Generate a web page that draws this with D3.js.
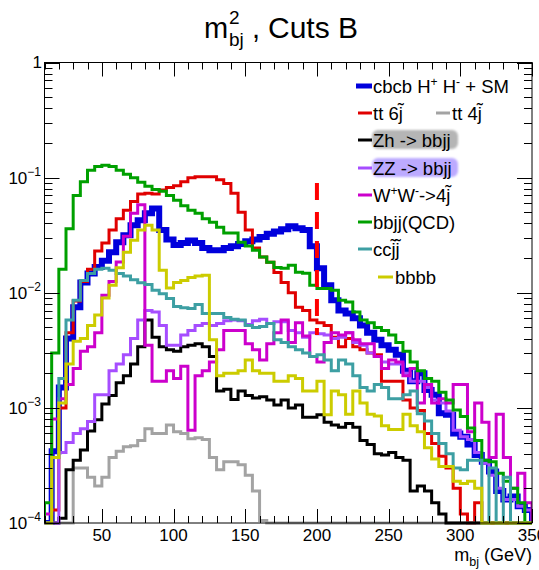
<!DOCTYPE html>
<html>
<head>
<meta charset="utf-8">
<script src="https://cdn.jsdelivr.net/npm/d3@7"></script>
<style>
  html, body { margin: 0; padding: 0; background: #fff; }
  text { font-family: "Liberation Sans", Arial, Helvetica, sans-serif; }
</style>
</head>
<body>
<svg id="chart" width="539" height="570"></svg>
<script>
// ---- data: m_bj distributions after cuts B, 5 GeV bins from 10 to 350 GeV ----
const binEdges = d3.range(10, 355, 5);           // 69 edges -> 68 bins
const xTickValues = [50, 100, 150, 200, 250, 300, 350];
const yDecades = [0, -1, -2, -3, -4];
const cutMass = 200;
const cutSpan = [0.0043, 0.09];

const cbcbHH = [
  0, 0.00042, 0.0015, 0.004, 0.0075, 0.0123, 0.0147, 0.0167, 0.019, 0.0225,
  0.0275, 0.0316, 0.0385, 0.0426, 0.049, 0.054, 0.035, 0.029, 0.026, 0.027,
  0.0285, 0.027, 0.0245, 0.0234, 0.0234, 0.0245, 0.0253, 0.0265, 0.028, 0.029,
  0.0305, 0.0325, 0.034, 0.0356, 0.0378, 0.0363, 0.035, 0.0253, 0.0163, 0.0116,
  0.0086, 0.007, 0.0066, 0.006, 0.0052, 0.0045, 0.0039, 0.0035, 0.0032, 0.0029,
  0.0021, 0.0017, 0.002, 0.00143, 0.0013, 0.0009, 0.00087, 0.0006, 0.00056, 0.00048,
  0.00039, 0.00034, 0.00028, 0.00019, 0.00016, 0.00017, 0.00014, 0.00013
];
const tt6j = [
  0, 0.00013, 0.001, 0.0045, 0.0085, 0.0125, 0.016, 0.023, 0.027, 0.035,
  0.044, 0.052, 0.062, 0.072, 0.073, 0.072, 0.078, 0.082, 0.085, 0.092,
  0.1, 0.102, 0.102, 0.102, 0.096, 0.089, 0.073, 0.05, 0.035, 0.0245,
  0.0204, 0.0184, 0.015, 0.0123, 0.01, 0.0075, 0.007, 0.0058, 0.0055, 0.0052,
  0.0041, 0.0034, 0.004, 0.0034, 0.0032, 0.003, 0.0029, 0.0017, 0.0017, 0.0017,
  0.00117, 0.001, 0.00095, 0.0006, 0.00049, 0.00038, 0.0003, 0.0002, 0.00012, 0,
  0.00015, 0, 0, 0, 0, 0, 0, 0
];
const tt4j = [
  0, 0, 0, 0, 0.0003, 0.0003, 0.00025, 0.00021, 0.00025, 0.00037,
  0.00042, 0.00046, 0.00047, 0.00052, 0.00066, 0.0006, 0.0006, 0.00071, 0.00062, 0.0006,
  0.00054, 0.00055, 0.00053, 0.00037, 0.00029, 0.00034, 0.00034, 0.00032, 0.00026, 0.00019,
  0.000105, 0, 0, 0, 0, 0, 0, 0, 0, 0,
  0, 0, 0, 0, 0, 0, 0, 0, 0, 0,
  0, 0, 0, 0, 0, 0, 0, 0, 0, 0,
  0, 0, 0, 0, 0, 0, 0, 0
];
const zhBbjj = [
  0, 0.0001, 0.00011, 0.00029, 0.00035, 0.00043, 0.00063, 0.00079, 0.00108, 0.00128,
  0.00165, 0.0019, 0.0024, 0.0034, 0.0058, 0.0041, 0.0034, 0.0032, 0.0031, 0.0034,
  0.0035, 0.0036, 0.0034, 0.0028, 0.0014, 0.00145, 0.00118, 0.0014, 0.00128, 0.00122,
  0.00125, 0.00117, 0.00106, 0.00117, 0.001, 0.00106, 0.00083, 0.00083, 0.00087, 0.00075,
  0.00071, 0.00068, 0.00073, 0.00068, 0.00052, 0.00048, 0.0004, 0.00039, 0.00041, 0.00037,
  0.00035, 0.00019, 0.00021, 0.00019, 0.00015, 0.00012, 0, 0, 0, 0,
  0, 0, 0, 0, 0, 0, 0, 0
];
const zzBbjj = [
  0, 0, 0.00041, 0.0005, 0.0006, 0.00066, 0.00076, 0.0013, 0.0013, 0.0021,
  0.0024, 0.0029, 0.004, 0.0058, 0.007, 0.0068, 0.0052, 0.0035, 0.0035, 0.0043,
  0.0047, 0.0052, 0.0054, 0.0052, 0.0054, 0.0057, 0.0058, 0.0057, 0.0053, 0.0057,
  0.0059, 0.0054, 0.0056, 0.0056, 0.0047, 0.0045, 0.0041, 0.0045, 0.0044, 0.0043,
  0.004, 0.0041, 0.0045, 0.0037, 0.0035, 0.003, 0.0028, 0.0025, 0.0024, 0.0024,
  0.002, 0.0017, 0.0017, 0.0015, 0.00117, 0.0011, 0.00094, 0.00064, 0.00056, 0.00053,
  0.00041, 0.00033, 0.00026, 0.0002, 0.00016, 0.00016, 0.00014, 0.00013
];
const ww4j = [
  0.00012, 0.0008, 0.0012, 0.0016, 0.0022, 0.0031, 0.0034, 0.0045, 0.0095, 0.0125,
  0.0185, 0.031, 0.049, 0.058, 0.0035, 0.0017, 0.0017, 0.0021, 0.0018, 0.0023,
  0.00064, 0.0019, 0.0021, 0.0025, 0.0032, 0.0047, 0.0047, 0.0047, 0.0036, 0.0032,
  0.0026, 0.0036, 0.0045, 0.0058, 0.0037, 0.0055, 0.0042, 0.0028, 0.0025, 0.0037,
  0.0045, 0.0043, 0.0045, 0.0039, 0.0036, 0.0036, 0.0028, 0.0022, 0.0026, 0.0025,
  0.0019, 0.0022, 0.0011, 0.0016, 0.0011, 0.0012, 0.0011, 0.0016, 0.0016, 0.00062,
  0.0011, 0.00075, 0.00037, 0.00088, 0.00037, 0.0002, 0.00027, 0.00015
];
const bbjjQCD = [
  0.00015, 0.003, 0.016, 0.036, 0.07, 0.092, 0.116, 0.125, 0.128, 0.125,
  0.116, 0.107, 0.1, 0.091, 0.084, 0.079, 0.076, 0.07, 0.0635, 0.057,
  0.052, 0.049, 0.044, 0.041, 0.037, 0.033, 0.033, 0.0275, 0.0255, 0.0234,
  0.0204, 0.0184, 0.0166, 0.0163, 0.0173, 0.0151, 0.0148, 0.0116, 0.0109, 0.0109,
  0.0105, 0.0086, 0.0083, 0.0068, 0.0058, 0.0055, 0.005, 0.0047, 0.0043, 0.0037,
  0.0031, 0.0025, 0.0021, 0.0018, 0.0017, 0.00137, 0.00117, 0.00096, 0.00084, 0.00067,
  0.00052, 0.00035, 0.00034, 0.00027, 0.00023, 0.0002, 0.00015, 0
];
const ccjj = [
  0, 0.00037, 0.0018, 0.0058, 0.0086, 0.0128, 0.0147, 0.016, 0.0163, 0.0157,
  0.0147, 0.014, 0.013, 0.0122, 0.0118, 0.0105, 0.0098, 0.0089, 0.0076, 0.0074,
  0.0073, 0.0079, 0.0066, 0.0066, 0.0066, 0.0061, 0.0059, 0.0058, 0.0052, 0.005,
  0.0051, 0.0054, 0.0039, 0.0037, 0.0034, 0.0032, 0.003, 0.0028, 0.0029, 0.0026,
  0.0021, 0.0026, 0.0024, 0.0019, 0.0015, 0.0014, 0.0016, 0.0015, 0.0012, 0.0012,
  0.0013, 0.0014, 0.00089, 0.00077, 0.0006, 0.00049, 0.0004, 0.0003, 0.00029, 0.00035,
  0.00035, 0, 0.0003, 0, 0.00025, 0, 0, 0
];
const bbbb = [
  0, 0.00037, 0.0011, 0.0024, 0.0038, 0.004, 0.0052, 0.0064, 0.009, 0.0116,
  0.0165, 0.0225, 0.0286, 0.035, 0.0385, 0.035, 0.0157, 0.011, 0.0123, 0.0128,
  0.0136, 0.014, 0.0142, 0.0039, 0.0019, 0.002, 0.002, 0.0021, 0.0026, 0.0021,
  0.002, 0.002, 0.0017, 0.0017, 0.0019, 0.0018, 0.0014, 0.0014, 0.0017, 0.00087,
  0.0014, 0.0013, 0.00088, 0.0014, 0.0011, 0.00088, 0.00085, 0.0007, 0.00065, 0.00065,
  0.00088, 0.0007, 0.00062, 0.00045, 0.00036, 0.00031, 0.00031, 0.00023, 0.00022, 0.00023,
  0.0002, 0, 0, 0, 0, 0, 0, 0
];

// ---- styling of each sample (drawing order: first is underneath) ----
const samples = [
  { values: cbcbHH,  color: "#0000dc", width: 6 },
  { values: tt6j,    color: "#e00000", width: 3 },
  { values: tt4j,    color: "#a3a3a3", width: 3 },
  { values: zhBbjj,  color: "#000000", width: 3 },
  { values: zzBbjj,  color: "#a64dff", width: 3 },
  { values: ww4j,    color: "#cc00cc", width: 3 },
  { values: bbjjQCD, color: "#00a000", width: 3 },
  { values: ccjj,    color: "#3d9fa3", width: 3 },
  { values: bbbb,    color: "#cccc00", width: 3 }
];

// ---- layout ----
const frame = { left: 44.5, right: 532, top: 62.5, bottom: 523 };
const svg = d3.select("#chart");
const x = d3.scaleLinear().domain([10, 350]).range([frame.left, frame.right]);
const y = d3.scaleLog().domain([1e-4, 1]).range([frame.bottom, frame.top]).clamp(true);
const yv = v => y(Math.max(v, 1e-4));

// ---- title: m^2_bj , Cuts B ----
const title = svg.append("g").attr("fill", "#000");
title.append("text").attr("x", 204).attr("y", 38).attr("font-size", 29).text("m");
title.append("text").attr("x", 229).attr("y", 24).attr("font-size", 19).text("2");
title.append("text").attr("x", 229).attr("y", 46).attr("font-size", 19).text("bj");
title.append("text").attr("x", 252).attr("y", 38).attr("font-size", 29).text(",");
title.append("text").attr("x", 268).attr("y", 38).attr("font-size", 30).text("Cuts B");

// ---- histograms ----
svg.append("defs").append("clipPath").attr("id", "plotArea")
  .append("rect")
  .attr("x", frame.left).attr("y", frame.top - 1)
  .attr("width", frame.right - frame.left).attr("height", frame.bottom - frame.top + 3);

const step = d3.line().x(d => x(d[0])).y(d => yv(d[1])).curve(d3.curveStepAfter);
function histPoints(values) {
  const pts = [[binEdges[0], 0]];
  values.forEach((v, i) => pts.push([binEdges[i], v]));
  pts.push([binEdges[values.length], values[values.length - 1]]);
  pts.push([binEdges[values.length], 0]);
  return pts;
}

const plot = svg.append("g").attr("clip-path", "url(#plotArea)");
samples.forEach(s => {
  plot.append("path")
    .attr("d", step(histPoints(s.values)))
    .attr("fill", "none")
    .attr("stroke", s.color)
    .attr("stroke-width", s.width)
    .attr("stroke-linejoin", "miter");
});

// cut at m_bj = 200 GeV
svg.append("line")
  .attr("x1", x(cutMass)).attr("x2", x(cutMass))
  .attr("y1", y(cutSpan[1])).attr("y2", y(cutSpan[0]))
  .attr("stroke", "#ff0000").attr("stroke-width", 4)
  .attr("stroke-dasharray", "17,12");

// ---- frame and ticks ----
const axes = svg.append("g").attr("stroke", "#000").attr("stroke-width", 1).attr("fill", "none");
axes.append("rect")
  .attr("x", frame.left).attr("y", frame.top)
  .attr("width", frame.right - frame.left).attr("height", frame.bottom - frame.top);

const xMinor = d3.range(10, 351, 10).filter(v => v % 50 !== 0);
function xTicks(vals, len) {
  vals.forEach(v => {
    const px = Math.round(x(v)) + 0.5;
    axes.append("line").attr("x1", px).attr("x2", px).attr("y1", frame.bottom).attr("y2", frame.bottom - len);
    axes.append("line").attr("x1", px).attr("x2", px).attr("y1", frame.top).attr("y2", frame.top + len);
  });
}
xTicks(xTickValues, 14);
xTicks(xMinor, 7);

const yMajor = yDecades.map(e => Math.pow(10, e));
const yMinor = [];
yDecades.slice(1).forEach(e => d3.range(2, 10).forEach(m => yMinor.push(m * Math.pow(10, e))));
function yTicks(vals, len) {
  vals.forEach(v => {
    const py = Math.round(y(v)) + 0.5;
    axes.append("line").attr("x1", frame.left).attr("x2", frame.left + len).attr("y1", py).attr("y2", py);
    axes.append("line").attr("x1", frame.right).attr("x2", frame.right - len).attr("y1", py).attr("y2", py);
  });
}
yTicks(yMajor, 15);
yTicks(yMinor, 8);

// ---- tick labels ----
const labels = svg.append("g").attr("fill", "#000").attr("font-size", 17);
xTickValues.forEach(v => {
  labels.append("text").attr("x", x(v)).attr("y", 541).attr("text-anchor", "middle").text(v);
});
yDecades.forEach(e => {
  const py = y(Math.pow(10, e));
  if (e === 0) {
    labels.append("text").attr("x", 42).attr("y", py + 5).attr("text-anchor", "end").text("1");
  } else {
    const t = labels.append("text").attr("x", 41).attr("y", py + 6).attr("text-anchor", "end");
    t.append("tspan").text("10");
    t.append("tspan").attr("dy", -8).attr("font-size", 12).text("\u2212" + (-e));
  }
});

// axis title
const xt = svg.append("text").attr("x", 532).attr("y", 561).attr("text-anchor", "end")
  .attr("font-size", 18).attr("fill", "#000");
xt.append("tspan").text("m");
xt.append("tspan").attr("dy", 5).attr("font-size", 12.5).text("bj");
xt.append("tspan").attr("dy", -5).text(" (GeV)");

// ---- legend ----
const legendNames = [
  [["cbcb H"], ["+", "sup"], [" H"], ["-", "sup"], [" + SM"]],
  [["tt 6j\u0303"]],
  [["tt 4j\u0303"]],
  [["Zh -> bbjj"]],
  [["ZZ -> bbjj"]],
  [["W"], ["+", "sup"], ["W"], ["-", "sup"], ["->4j\u0303"]],
  [["bbjj(QCD)"]],
  [["ccj\u0303j\u0303"]],
  [["bbbb"]]
];
const legendPlace = [
  { x: 373, y: 86, lx: [356, 372], sample: 0 },
  { x: 373, y: 113, lx: [358, 372], sample: 1 },
  { x: 452, y: 113, lx: [436, 450], sample: 2 },
  { x: 373, y: 140, lx: [358, 372], sample: 3, box: "#b5b5b5" },
  { x: 373, y: 168, lx: [358, 372], sample: 4, box: "#bcaaff" },
  { x: 373, y: 195, lx: [358, 372], sample: 5 },
  { x: 373, y: 222, lx: [358, 372], sample: 6 },
  { x: 373, y: 249, lx: [358, 372], sample: 7 },
  { x: 395, y: 277, lx: [378, 393], sample: 8 }
];

const blur = svg.select("defs").append("filter").attr("id", "soft")
  .attr("x", "-10%").attr("y", "-30%").attr("width", "120%").attr("height", "160%");
blur.append("feGaussianBlur").attr("stdDeviation", 1.2);

const legend = svg.append("g").attr("font-size", 18.5).attr("fill", "#000");
legendPlace.forEach((p, i) => {
  const s = samples[p.sample];
  if (p.box) {
    legend.append("rect").attr("x", p.x - 1).attr("y", p.y - 10)
      .attr("width", 86).attr("height", 19).attr("rx", 6)
      .attr("fill", p.box).attr("filter", "url(#soft)");
  }
  legend.append("line").attr("x1", p.lx[0]).attr("x2", p.lx[1]).attr("y1", p.y).attr("y2", p.y)
    .attr("stroke", s.color).attr("stroke-width", i === 0 ? 5 : 3);
  const t = legend.append("text").attr("x", p.x).attr("y", p.y + 6.5);
  let raised = false;
  legendNames[i].forEach(([str, kind]) => {
    const ts = t.append("tspan").text(str);
    if (kind === "sup" && !raised) { ts.attr("dy", -7).attr("font-size", 12); raised = true; }
    else if (kind === "sup") { ts.attr("font-size", 12); }
    else if (raised) { ts.attr("dy", 7); raised = false; }
  });
});
</script>
</body>
</html>
